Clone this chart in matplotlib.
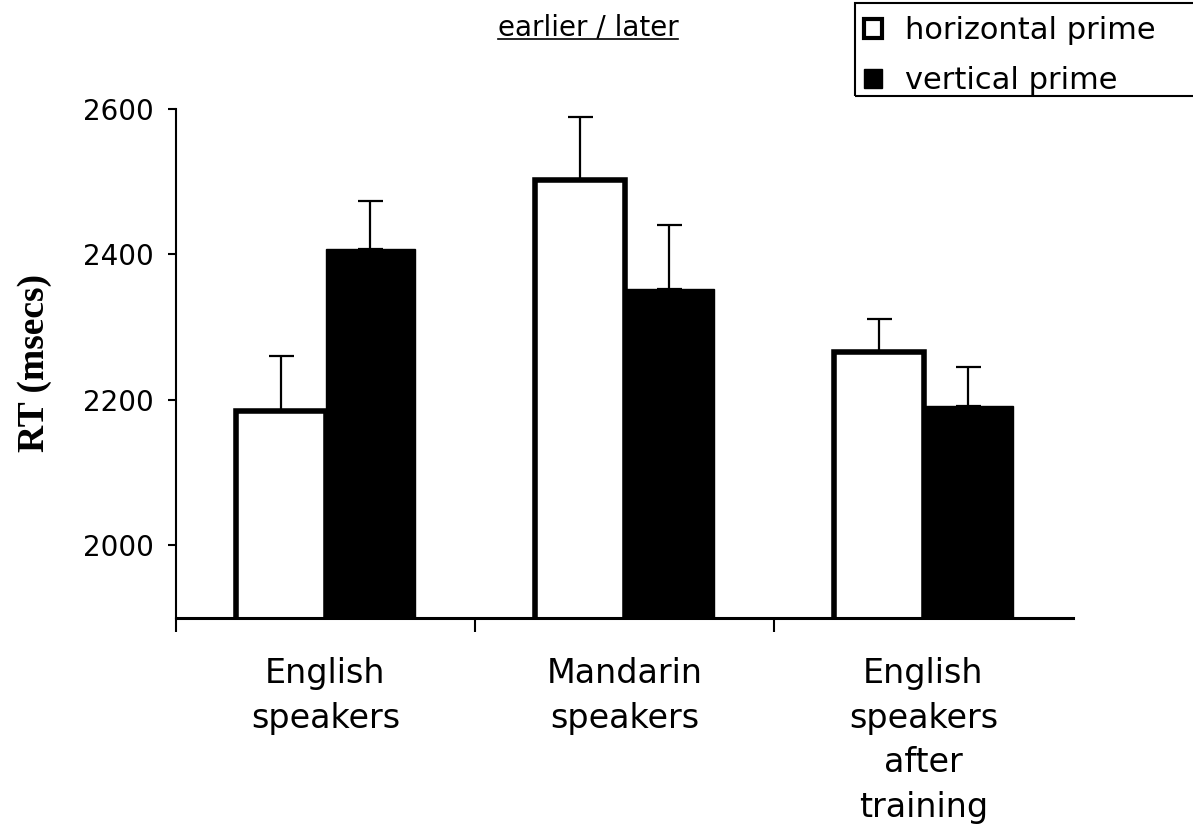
import matplotlib
matplotlib.use("Agg")
import matplotlib.pyplot as plt
import numpy as np
from matplotlib.patches import Patch, Rectangle
from matplotlib.lines import Line2D

# data
groups = ["English\nspeakers", "Mandarin\nspeakers", "English\nspeakers\nafter\ntraining"]
horizontal = [2185, 2503, 2266]
horizontal_err = [75, 86, 45]
vertical = [2407, 2352, 2192]
vertical_err = [67, 88, 53]
yticks = [2000, 2200, 2400, 2600]

W, H = 1193, 827
fig = plt.figure(figsize=(W / 100, H / 100), dpi=100)
ax = fig.add_axes([176 / W, 1 - 618 / H, (1073 - 176) / W, (618 - 109) / H])

x = np.arange(len(groups))
bw = 0.3
ax.bar(x - bw / 2, horizontal, bw, color="white", edgecolor="black",
       linewidth=4, zorder=2)
ax.bar(x + bw / 2, vertical, bw, color="black", edgecolor="black",
       linewidth=1, zorder=2)

zeros = np.zeros(len(groups))
ax.errorbar(x - bw / 2, horizontal, yerr=[zeros, horizontal_err], fmt="none",
            ecolor="black", elinewidth=1.6, capsize=9, capthick=1.6, zorder=3)
ax.errorbar(x + bw / 2, vertical, yerr=[zeros, vertical_err], fmt="none",
            ecolor="black", elinewidth=1.6, capsize=9, capthick=1.6, zorder=3)

ax.set_xlim(-0.5, 2.5)
ax.set_ylim(1900, 2600)
ax.set_yticks(yticks)
ax.tick_params(axis="y", direction="out", length=6, width=1.5, labelsize=20, pad=10)

ax.set_xticks(x)
ax.set_xticklabels(groups, fontsize=24, linespacing=1.45)
ax.tick_params(axis="x", which="major", length=0, pad=28)
ax.set_xticks([-0.5, 0.5, 1.5], minor=True)
ax.tick_params(axis="x", which="minor", direction="out", length=10, width=1.5)

for s in ["top", "right"]:
    ax.spines[s].set_visible(False)
ax.spines["left"].set_linewidth(1.5)
ax.spines["bottom"].set_linewidth(2.2)

ax.set_ylabel("RT (msecs)", family="Liberation Serif", fontweight="bold",
              fontsize=27, labelpad=22)

# title with underline
t = fig.text(588 / W, 1 - 27 / H, "earlier / later", ha="center", va="center",
             fontsize=20)
fig.canvas.draw()
bb = t.get_window_extent().transformed(fig.transFigure.inverted())
fig.add_artist(Line2D([bb.x0, bb.x1], [1 - 39 / H, 1 - 39 / H], color="black",
                      linewidth=1.2))

# legend
handles = [Patch(facecolor="white", edgecolor="black", linewidth=3),
           Patch(facecolor="black", edgecolor="black")]
fig.legend(handles, ["horizontal prime", "vertical prime"], loc="upper left",
           bbox_to_anchor=(864 / W, 1 - 16 / H), frameon=False, fontsize=22,
           handlelength=0.6, handleheight=0.6, handletextpad=0.75,
           labelspacing=0.7, borderpad=0, borderaxespad=0)
fig.add_artist(Rectangle((855 / W, 1 - 96 / H), (1200 - 855) / W, 93 / H,
                         transform=fig.transFigure, fill=False,
                         edgecolor="black", linewidth=1.5))

fig.savefig("out.png", dpi=100)
